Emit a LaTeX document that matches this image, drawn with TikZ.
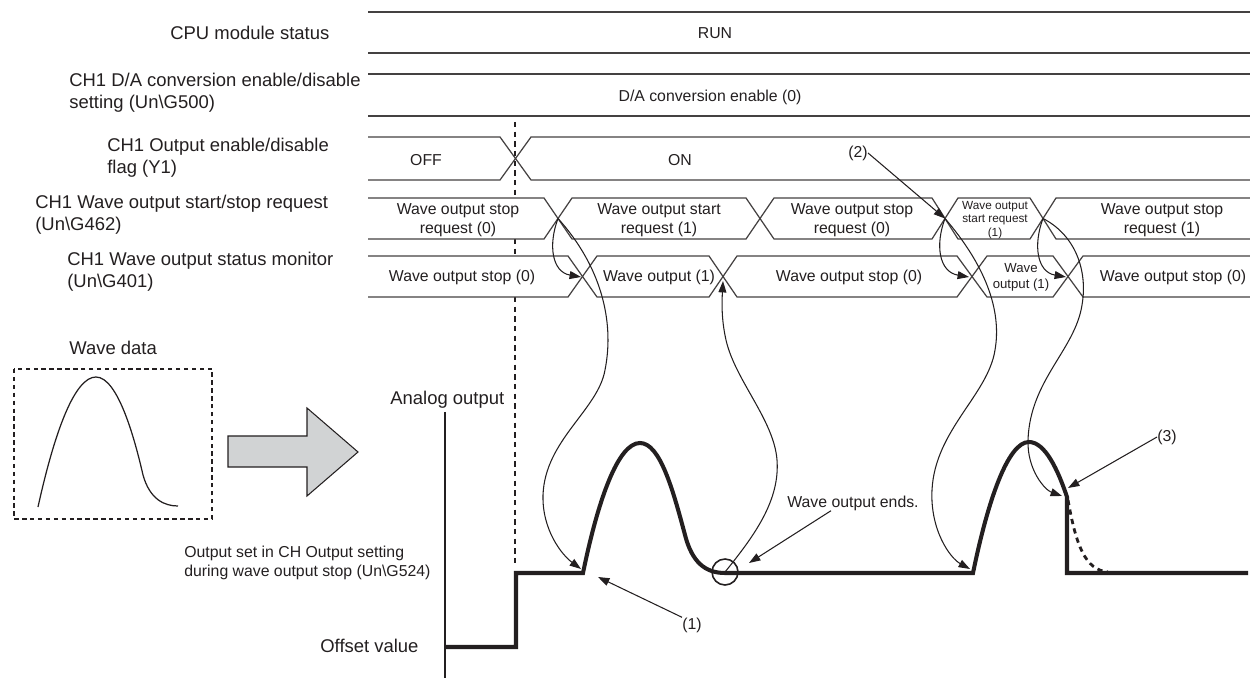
\documentclass[tikz,border=0pt]{standalone}
\usepackage{fontspec}
\setmainfont{Liberation Sans}
\usetikzlibrary{arrows.meta}
\definecolor{ink}{HTML}{231F20}
\definecolor{arrowgray}{HTML}{D1D3D4}
\tikzstyle{rowlabel} = [anchor=west, inner sep=0pt, align=left, text=ink, font=\fontsize{10.5}{12.5}\selectfont]
\tikzstyle{rowtext} = [inner sep=0pt, align=center, text=ink, font=\fontsize{9}{10.8}\selectfont]
\tikzstyle{smalltext} = [inner sep=0pt, align=center, text=ink, font=\fontsize{6.7}{7.6}\selectfont]
\tikzstyle{note} = [inner sep=0pt, text=ink, font=\fontsize{9}{11}\selectfont]
\tikzstyle{sigline} = [draw=ink!85, line width=0.7pt]
\tikzstyle{analog} = [draw=ink, line width=2.3pt]
\tikzstyle{guide} = [draw=ink, line width=0.6pt, dash pattern=on 3pt off 2.5pt]
\tikzstyle{arrow} = [draw=ink, line width=0.6pt, -{Triangle[length=6.5pt,width=4.5pt]}]

\begin{document}
\begin{tikzpicture}[x=0.02cm, y=-0.02cm]
    \useasboundingbox (0,0) rectangle (1250,678);
    % Signal names
    \node (cpu) [rowlabel] at (170,33) {CPU module status};
    \node (daconv) [rowlabel] at (69,93) {CH1 D/A conversion enable/disable\\setting (Un\textbackslash G500)};
    \node (outflag) [rowlabel] at (107,158) {CH1 Output enable/disable\\flag (Y1)};
    \node (waverq) [rowlabel] at (35,215) {CH1 Wave output start/stop request\\(Un\textbackslash G462)};
    \node (wavemon) [rowlabel] at (67,272) {CH1 Wave output status monitor\\(Un\textbackslash G401)};

    % Timing rows
    \draw [guide] (515,122) -- (515,198) (515,239) -- (515,256) (515,297) -- (515,563);
    \draw [sigline] (368,12) -- (1250,12) (368,53) -- (1250,53);
    \draw [sigline] (368,74) -- (1250,74) (368,116) -- (1250,116);
    \draw [sigline] (368,137) -- (500,137) -- (531,180) -- (1250,180);
    \draw [sigline] (368,180) -- (500,180) -- (531,137) -- (1250,137);
    \draw [sigline] (368,198) -- (544,198) -- (572,239) -- (746,239) -- (774,198) -- (932,198) -- (958,239) -- (1030,239) -- (1056,198) -- (1250,198);
    \draw [sigline] (368,239) -- (544,239) -- (572,198) -- (746,198) -- (774,239) -- (932,239) -- (958,198) -- (1030,198) -- (1056,239) -- (1250,239);
    \draw [sigline] (368,256) -- (568,256) -- (597,297) -- (709,297) -- (737,256) -- (957,256) -- (987,297) -- (1053,297) -- (1083,256) -- (1250,256);
    \draw [sigline] (368,297) -- (568,297) -- (597,256) -- (709,256) -- (737,297) -- (957,297) -- (987,256) -- (1053,256) -- (1083,297) -- (1250,297);

    \node (run) [rowtext] at (715,33) {RUN};
    \node (daen) [rowtext] at (710,97) {D/A conversion enable (0)};
    \node (off) [rowtext] at (426,160) {OFF};
    \node (on) [rowtext] at (680,160) {ON};
    \node (rqstop1) [rowtext] at (458,220) {Wave output stop\\request (0)};
    \node (rqstart1) [rowtext] at (659,220) {Wave output start\\request (1)};
    \node (rqstop2) [rowtext] at (852,220) {Wave output stop\\request (0)};
    \node (rqstart2) [smalltext] at (995,220) {Wave output\\start request\\(1)};
    \node (rqstop3) [rowtext] at (1162,220) {Wave output stop\\request (1)};
    \node (monstop1) [rowtext] at (462,277) {Wave output stop (0)};
    \node (monrun1) [rowtext] at (659,277) {Wave output (1)};
    \node (monstop2) [rowtext] at (849,277) {Wave output stop (0)};
    \node (monrun2) [rowtext, font=\fontsize{7.5}{9}\selectfont] at (1021,277) {Wave\\output (1)};
    \node (monstop3) [rowtext] at (1173,277) {Wave output stop (0)};

    % Wave data
    \node (wavedata) [rowlabel] at (69,348) {Wave data};
    \draw [draw=ink, line width=0.6pt, dash pattern=on 2.5pt off 2pt] (14,369) rectangle (212,519);
    \draw [draw=ink, line width=0.7pt] (38,507) .. controls (55,430) and (75,377) .. (96,377) .. controls (118,377) and (135,440) .. (143,475) .. controls (150,500) and (165,506) .. (178,506);
    \draw [draw=ink, fill=arrowgray, line width=0.6pt] (228,436) -- (307,436) -- (307,408) -- (358,452) -- (307,496) -- (307,467) -- (228,467) -- cycle;

    % Analog output
    \node (analog) [rowlabel] at (390,400) {Analog output};
    \node (offset) [rowlabel] at (320,646) {Offset value};
    \node (stopset) [note, anchor=west, align=left] at (184,563) {Output set in CH Output setting\\during wave output stop (Un\textbackslash G524)};
    \draw [draw=ink, line width=0.7pt] (445,412) -- (445,678);
    \draw [analog] (445,647) -- (516,647) -- (516,573) -- (583,573) .. controls (598,500) and (618,443) .. (640,443) .. controls (660,443) and (673,490) .. (685,535) .. controls (692,562) and (705,573) .. (725,573) -- (973,573) .. controls (988,500) and (1008,442) .. (1029,442) .. controls (1045,442) and (1058,470) .. (1067,497) -- (1067,573) -- (1248,573);
    \draw [draw=ink, line width=1.6pt, dash pattern=on 3pt off 2.5pt] (1068,500) .. controls (1076,545) and (1085,570) .. (1108,572);
    \node (endmark) [circle, draw=ink, line width=0.9pt, minimum size=0.52cm, inner sep=0pt] at (725,572) {};

    \node (n1) [note] at (692,625) {(1)};
    \node (n2) [note] at (858,153) {(2)};
    \node (n3) [note] at (1167,437) {(3)};
    \node (ends) [note, anchor=west] at (787,503) {Wave output ends.};

    \coordinate (rq1) at (558,218.5);
    \coordinate (rq3) at (945,218.5);
    \coordinate (rq4) at (1043,218.5);
    \coordinate (mon1) at (581,277);
    \coordinate (mon2) at (723,281);
    \coordinate (mon3) at (969,277);
    \coordinate (mon4) at (1066,277);
    \coordinate (rise1) at (581,569);
    \coordinate (rise2) at (970,569);
    \coordinate (cut) at (1062,496);
    \coordinate (tip1) at (598,577);
    \coordinate (tip3) at (1068,488);
    \coordinate (tipend) at (749,563);

    % Arrows
    \draw [arrow] (rq1) .. controls (548,245) and (552,272) .. (mon1);
    \draw [arrow] (rq3) .. controls (935,245) and (939,272) .. (mon3);
    \draw [arrow] (rq4) .. controls (1033,245) and (1037,272) .. (mon4);
    \draw [arrow] (rq1) .. controls (600,265) and (615,320) .. (605,370) .. controls (598,410) and (545,440) .. (543,495) .. controls (542,530) and (562,555) .. (rise1);
    \draw [arrow] (rq3) .. controls (985,265) and (1002,310) .. (995,350) .. controls (988,395) and (935,430) .. (932,490) .. controls (930,530) and (950,558) .. (rise2);
    \draw [arrow] (rq4) .. controls (1075,235) and (1088,270) .. (1082,305) .. controls (1075,350) and (1030,380) .. (1028,440) .. controls (1027,470) and (1045,490) .. (cut);
    \draw [arrow] (endmark.center) .. controls (755,535) and (780,500) .. (777,460) .. controls (774,420) and (735,380) .. (726,340) .. controls (721,318) and (722,300) .. (mon2);
    \draw [arrow] (n1.north west) -- (tip1);
    \draw [arrow] (n2.east) -- (rq3);
    \draw [arrow] (n3.west) -- (tip3);
    \draw [arrow] ([xshift=-0.44cm]ends.south) -- (tipend);
\end{tikzpicture}
\end{document}
